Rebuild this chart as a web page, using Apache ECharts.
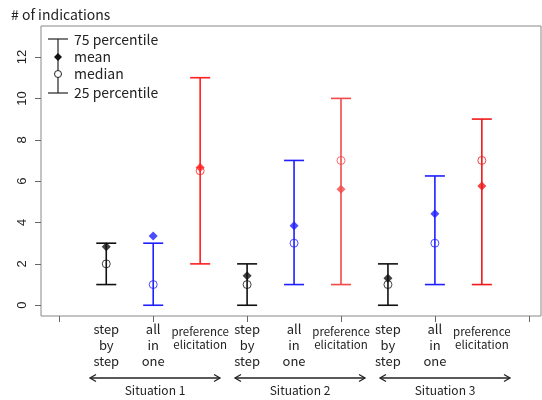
<!DOCTYPE html>
<html>
<head>
<meta charset="utf-8">
<script src="https://cdn.jsdelivr.net/npm/echarts@6/dist/echarts.min.js"></script>
<style>
  html, body { margin: 0; padding: 0; background: #fff; }
  #chart { width: 542px; height: 400px; }
</style>
</head>
<body>
<div id="chart"></div>
<script>
// values, one entry per bar (3 methods x 3 situations)
var methods = ['step\nby\nstep', 'all\nin\none', 'preference\nelicitation'];
var situations = ['Situation 1', 'Situation 2', 'Situation 3'];
var positions = [1, 2, 3, 4, 5, 6, 7, 8, 9];
var p75 = [3, 3, 11, 2, 7, 10, 2, 6.25, 9];
var p25 = [1, 0, 2, 0, 1, 1, 0, 1, 1];
var means = [2.83, 3.35, 6.66, 1.42, 3.84, 5.61, 1.3, 4.42, 5.77];
var medians = [2, 1, 6.5, 1, 3, 7, 1, 3, 7];
var yTicks = [0, 2, 4, 6, 8, 10, 12];
var xTicks = [0, 2, 4, 6, 8, 10];

var barColors = ['#111', '#1f1fff', '#ff1f1f', '#111', '#1f1fff', '#f24a4a', '#111', '#1f1fff', '#f01818'];
var font = '"Noto Sans CJK JP", "Noto Sans", sans-serif';

var chart = echarts.init(document.getElementById('chart'));

var barData = [], meanData = [], medianData = [];
for (var i = 0; i < positions.length; i++) {
    barData.push([positions[i], p25[i], p75[i]]);
    meanData.push({ value: [positions[i], means[i]], itemStyle: { color: barColors[i] } });
    medianData.push({ value: [positions[i], medians[i]], itemStyle: { color: 'none', borderColor: barColors[i], borderWidth: 1 } });
}

function renderBar(params, api) {
    var x = api.value(0);
    var lo = api.coord([x, api.value(1)]);
    var hi = api.coord([x, api.value(2)]);
    var c = barColors[params.dataIndex];
    var st = { stroke: c, lineWidth: 1.6 };
    var w = 10;
    return {
        type: 'group',
        children: [
            { type: 'line', shape: { x1: lo[0], y1: lo[1], x2: hi[0], y2: hi[1] }, style: st },
            { type: 'line', shape: { x1: lo[0] - w, y1: lo[1], x2: lo[0] + w, y2: lo[1] }, style: st },
            { type: 'line', shape: { x1: hi[0] - w, y1: hi[1], x2: hi[0] + w, y2: hi[1] }, style: st }
        ]
    };
}

// arrows under the axis, one per situation
var graphics = [];
var arrowSpans = [[90, 220], [235, 365], [380, 510]];
var arrowY = 378;
for (var s = 0; s < arrowSpans.length; s++) {
    var a = arrowSpans[s][0], b = arrowSpans[s][1];
    graphics.push({ type: 'line', shape: { x1: a, y1: arrowY, x2: b, y2: arrowY }, style: { stroke: '#222', lineWidth: 1.3 } });
    graphics.push({ type: 'polyline', shape: { points: [[a + 6, arrowY - 3.5], [a, arrowY], [a + 6, arrowY + 3.5]] }, style: { stroke: '#222', lineWidth: 1.3, fill: 'none' } });
    graphics.push({ type: 'polyline', shape: { points: [[b - 6, arrowY - 3.5], [b, arrowY], [b - 6, arrowY + 3.5]] }, style: { stroke: '#222', lineWidth: 1.3, fill: 'none' } });
    graphics.push({ type: 'text', x: (a + b) / 2, y: 390, style: { text: situations[s], font: '12px ' + font, fill: '#222', align: 'center', verticalAlign: 'middle' } });
}
// title
graphics.push({ type: 'text', x: 11, y: 15, style: { text: '# of indications', font: '14px ' + font, fill: '#222', verticalAlign: 'middle' } });
// legend glyph
var lg = { stroke: '#222', lineWidth: 1.2 };
graphics.push({ type: 'line', shape: { x1: 58, y1: 39, x2: 58, y2: 93 }, style: lg });
graphics.push({ type: 'line', shape: { x1: 48, y1: 39, x2: 68, y2: 39 }, style: lg });
graphics.push({ type: 'line', shape: { x1: 48, y1: 93, x2: 68, y2: 93 }, style: lg });
graphics.push({ type: 'polygon', shape: { points: [[58, 53], [62, 57], [58, 61], [54, 57]] }, style: { fill: '#111' } });
graphics.push({ type: 'circle', shape: { cx: 58, cy: 74, r: 3.5 }, style: { fill: '#fff', stroke: '#222', lineWidth: 1 } });
var legendTexts = [['75 percentile', 40], ['mean', 57], ['median', 74], ['25 percentile', 93]];
legendTexts.forEach(function (t) {
    graphics.push({ type: 'text', x: 74, y: t[1], style: { text: t[0], font: '14px ' + font, fill: '#222', verticalAlign: 'middle' } });
});

var option = {
    animation: false,
    grid: {
        left: 41, right: 1, top: 26, bottom: 84,
        show: true, borderColor: '#888', borderWidth: 1
    },
    xAxis: {
        type: 'value',
        min: -0.39, max: 10.26,
        splitLine: { show: false },
        axisLine: { show: false, onZero: false },
        axisTick: { show: true, customValues: xTicks, length: 6, lineStyle: { color: '#666' } },
        axisLabel: {
            show: true,
            customValues: positions,
            margin: 5,
            formatter: function (v) {
                var k = Math.round(v) - 1;
                var m = k % 3;
                return m === 2 ? '{p|' + methods[m] + '}' : '{s|' + methods[m] + '}';
            },
            rich: {
                s: { fontFamily: font, fontSize: 13, lineHeight: 16, color: '#222', align: 'center' },
                p: { fontFamily: font, fontSize: 11.5, lineHeight: 13, color: '#222', align: 'center', padding: [9, 0, 0, 0] }
            }
        }
    },
    yAxis: {
        type: 'value',
        min: -0.52, max: 13.5,
        splitLine: { show: false },
        axisLine: { show: false, onZero: false },
        axisTick: { show: true, customValues: yTicks, length: 6, lineStyle: { color: '#666' } },
        axisLabel: {
            customValues: yTicks,
            rotate: 90,
            margin: 12,
            fontFamily: '"Liberation Sans", Arial, sans-serif',
            fontSize: 13,
            color: '#222'
        }
    },
    series: [
        { type: 'custom', renderItem: renderBar, data: barData, z: 2 },
        { type: 'scatter', symbol: 'circle', symbolSize: 8, data: medianData, z: 3 },
        { type: 'scatter', symbol: 'diamond', symbolSize: [9, 9], data: meanData, z: 4 }
    ],
    graphic: graphics
};

chart.setOption(option);
window.addEventListener('resize', function () {
    chart.resize();
});
</script>
</body>
</html>
